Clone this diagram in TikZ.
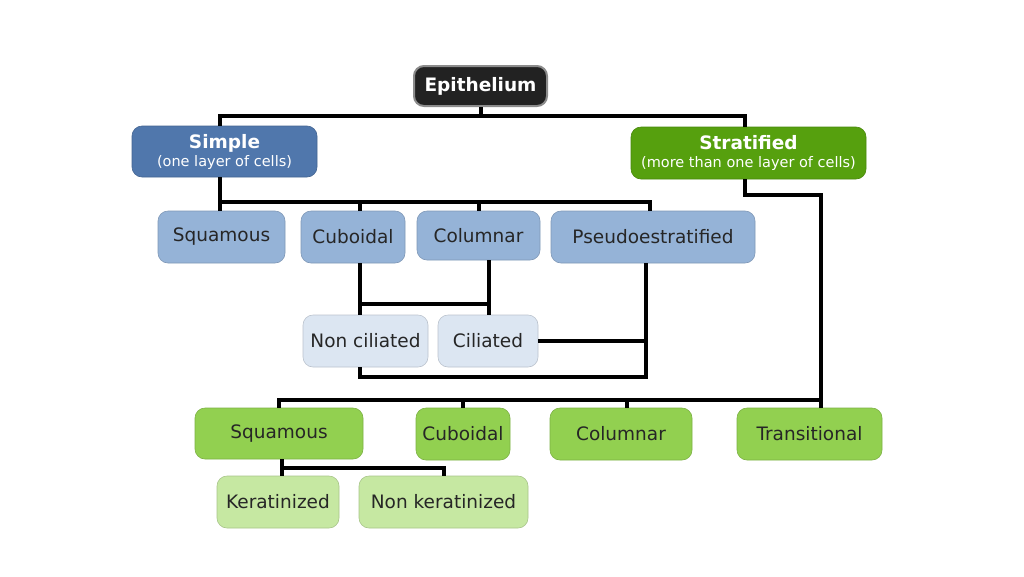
\documentclass[tikz,border=0pt]{standalone}
\usepackage{fontspec}
\setmainfont{DejaVu Sans}
\usepackage{tikz}
\usetikzlibrary{positioning, calc}
\usepackage{xcolor}
\definecolor{rootfill}{HTML}{222222}
\definecolor{simplefill}{HTML}{5077AC}
\definecolor{stratfill}{HTML}{56A00E}
\definecolor{bluefill}{HTML}{95B3D7}
\definecolor{palefill}{HTML}{DCE6F2}
\definecolor{greenfill}{HTML}{92D050}
\definecolor{lightgreen}{HTML}{C6E8A2}

\begin{document}
\begin{tikzpicture}[
        x=1pt, y=-1pt,
        box/.style={rounded corners=10pt, inner sep=0pt, align=center,
          minimum height=52pt, font=\fontsize{18.5}{18}\selectfont},
        root/.style={box, fill=rootfill, draw=black!45, line width=2pt,
          text=white, font=\bfseries\fontsize{18.5}{18}\selectfont},
        main/.style={box, fill=#1, draw=#1!85!black, line width=0.6pt, text=white},
        leaf/.style={box, fill=#1, draw=#1!85!black, line width=0.6pt, text=black!85},
        wire/.style={line width=4pt}
      ]
      \useasboundingbox[fill=white] (0,0) rectangle (1024,576);

      \node[root, minimum width=133pt, minimum height=40pt] (epi) at (480.5,86) {Epithelium};
      \node[main=simplefill, minimum width=185pt, minimum height=51pt] (simple) at (224.5,151.5)
        {\textbf{Simple}\\{\fontsize{14.5}{16}\selectfont (one layer of cells)}};
      \node[main=stratfill, minimum width=235pt] (strat) at (748.5,153)
        {\textbf{Stratified}\\{\fontsize{14.5}{16}\selectfont (more than one layer of cells)}};

      \node[leaf=bluefill, minimum width=127pt] (sqs) at (221.5,237) {Squamous};
      \node[leaf=bluefill, minimum width=104pt] (cus) at (353,237)   {Cuboidal};
      \node[leaf=bluefill, minimum width=123pt, minimum height=49pt] (cos) at (478.5,235.5) {Columnar};
      \node[leaf=bluefill, minimum width=204pt] (pss) at (653,237)   {Pseudoestratified};

      \node[leaf=palefill, minimum width=125pt] (nonc) at (365.5,341) {Non ciliated};
      \node[leaf=palefill, minimum width=100pt] (cil)  at (488,341)   {Ciliated};

      \node[leaf=greenfill, minimum width=168pt, minimum height=51pt] (sqt) at (279,433.5) {Squamous};
      \node[leaf=greenfill, minimum width=94pt]  (cut) at (463,434)   {Cuboidal};
      \node[leaf=greenfill, minimum width=142pt] (cot) at (621,434)   {Columnar};
      \node[leaf=greenfill, minimum width=145pt] (tra) at (809.5,434) {Transitional};

      \node[leaf=lightgreen, minimum width=122pt] (ker)  at (278,502)   {Keratinized};
      \node[leaf=lightgreen, minimum width=169pt] (nker) at (443.5,502) {Non keratinized};

      \coordinate (j1) at (220,202);
      \coordinate (h1) at (360,304);
      \coordinate (h2) at (489,304);
      \coordinate (p1) at (646,377);

      \draw[wire] (epi.south) -- ++(0,9) coordinate (j0);
      \draw[wire] (simple.north -| j1) |- (j0) -| ([xshift=-3.5pt]strat.north);

      \draw[wire] (simple.south -| j1) -- (sqs.north -| j1);
      \draw[wire] (j1) -| ([xshift=-3pt]pss.north);
      \draw[wire] (cus.north -| h1) -- (j1 -| h1);
      \draw[wire] (cos.north) -- (cos.north |- j1);

      \draw[wire] (cus.south -| h1) -- (nonc.north -| h1);
      \draw[wire] (cos.south -| h2) -- (cil.north -| h2);
      \draw[wire] (h1) -- (h2);

      \draw[wire] (pss.south -| p1) -- (p1) -| (nonc.south -| h1);
      \draw[wire] (cil.east) -- (cil.east -| p1);

      \draw[wire] ([xshift=-3.5pt]strat.south) -- ++(0,16) -| ([xshift=11pt]tra.north);
      \draw[wire] (sqt.north) -- ++(0,-8) -| ([xshift=11pt]tra.north);
      \draw[wire] (cut.north) -- ++(0,-8);
      \draw[wire] ([xshift=6pt]cot.north) -- ++(0,-8);

      \draw[wire] ([xshift=3pt]sqt.south) -- ([xshift=3pt]sqt.south |- ker.north);
      \draw[wire] ([xshift=3pt]sqt.south) -- ++(0,9) -| (nker.north);
    \end{tikzpicture}
\end{document}
